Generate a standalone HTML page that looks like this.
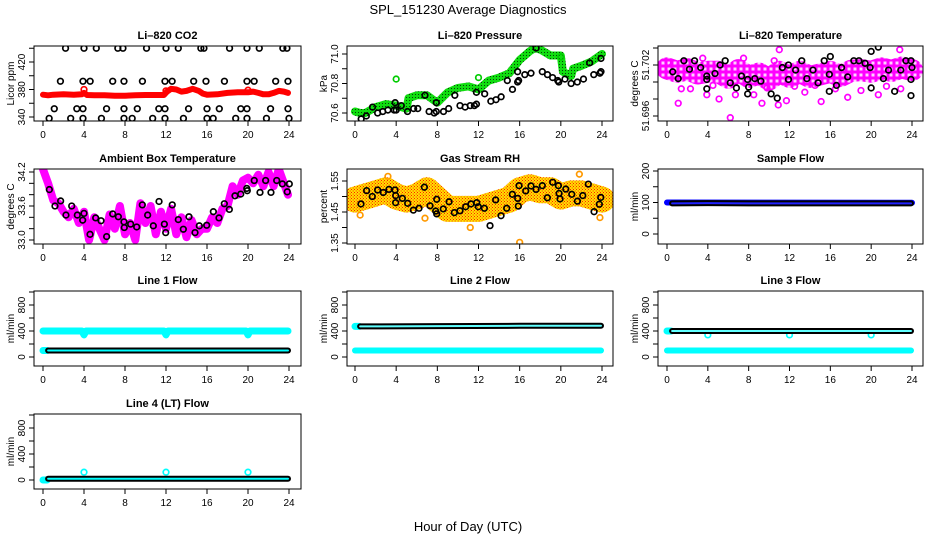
<!DOCTYPE html>
<html><head><meta charset="utf-8"><style>
html,body{margin:0;padding:0;background:#fff;}
svg{display:block;font-family:"Liberation Sans",Arial,sans-serif;}
</style></head><body>
<svg id="chart" width="936" height="540" viewBox="0 0 936 540" xmlns="http://www.w3.org/2000/svg">
<defs>
<pattern id="pRH" patternUnits="userSpaceOnUse" width="3" height="3"><rect width="3" height="3" fill="#ffe000"/><rect x="0" y="0" width="1" height="1" fill="#ff2000"/><rect x="1.5" y="1.5" width="1.5" height="1" fill="#ff6000"/></pattern>
<pattern id="pGreen" patternUnits="userSpaceOnUse" width="3" height="3"><rect width="3" height="3" fill="#10dd10"/><rect x="1" y="1" width="1" height="1" fill="#064006"/></pattern>
<pattern id="pMag" patternUnits="userSpaceOnUse" width="6" height="6"><rect width="6" height="6" fill="#ff00ff"/><rect x="1.5" y="1.5" width="3" height="3" fill="#ffd0ff"/></pattern>
</defs>
<text x="468" y="14" text-anchor="middle" font-size="13">SPL_151230  Average Diagnostics</text>
<text x="468" y="531" text-anchor="middle" font-size="13">Hour of Day (UTC)</text>
</svg>
<script>
// ---------- data ----------
const xTicks = [0,4,8,12,16,20,24];
const co2Band = [[0,372.5],[0.5,371.5],[1,372.5],[2,373],[3,372.5],[3.8,373],[4,375],[4.3,372],[5,371.5],[6,371.5],[7,371],[8,371],[9,371.5],[10,372],[11,372],[11.8,372],[12.1,377],[12.5,381],[13,380],[13.5,377],[14,378],[14.6,381],[15.2,378],[15.6,374],[16,372.5],[17,373],[18,375],[19,376],[20,376],[20.5,377],[21,375],[21.5,373],[22,373],[22.5,375],[23,378],[23.5,377],[23.9,375]];
const co2Red = [[4,380],[12,378],[20,379]];
const co2Black = [[2.2,440],[4.0,440],[5.2,440],[7.3,440],[7.8,440],[10.1,440],[12.0,440],[13.2,440],[15.4,440],[15.7,440],[18.2,440],[19.9,440],[21.1,440],[23.4,440],[23.8,440],
[1.7,392],[3.9,392],[4.6,392],[6.8,392],[7.9,392],[9.7,392],[11.9,392],[12.6,392],[14.7,392],[15.9,392],[17.7,392],[19.9,392],[20.6,392],[22.7,392],[23.9,392],
[1.1,352],[3.3,352],[3.9,352],[6.2,352],[7.9,352],[9.2,352],[11.3,352],[11.9,352],[14.2,352],[16.0,352],[17.2,352],[19.3,352],[19.9,352],[22.2,352],[23.9,352],
[0.6,338],[2.7,338],[3.9,338],[5.7,338],[7.9,338],[8.7,338],[10.7,338],[11.9,338],[13.7,338],[16.0,338],[16.6,338],[18.8,338],[19.9,338],[21.8,338],[24.0,338]];
const presBand = [[0,70.61],[0.5,70.6],[1,70.6],[2,70.64],[3,70.66],[4,70.65],[5,70.63],[5.2,70.7],[6,70.72],[7,70.72],[8,70.67],[9,70.74],[10,70.77],[11,70.78],[12,70.76],[13,70.82],[14,70.84],[15,70.87],[16,70.96],[17,71.02],[17.5,71.04],[18,71.03],[19,70.99],[20,70.99],[20.2,70.88],[21,70.85],[21.2,70.9],[22,70.92],[23,70.95],[24,71.0]];
const presGreen = [[4,70.83],[12,70.84],[20,70.98]];
const presBlack = [[0.6,70.56],[1.1,70.58],[1.7,70.64],[2.2,70.6],[2.7,70.61],[3.2,70.62],[3.8,70.62],[4.0,70.62],[3.9,70.67],[4.5,70.65],[5.1,70.61],[5.7,70.63],[6.1,70.63],[6.8,70.72],[7.2,70.61],[7.7,70.6],[7.9,70.61],[8.6,70.61],[9.1,70.63],[7.9,70.67],[9.7,70.72],[10.2,70.65],[10.7,70.64],[11.2,70.65],[11.6,70.65],[11.8,70.66],[11.8,70.74],[12.6,70.73],[13.2,70.68],[13.7,70.69],[14.2,70.71],[14.8,70.82],[15.3,70.76],[15.8,70.81],[15.9,70.82],[15.8,70.88],[16.5,70.86],[17.1,70.87],[17.6,71.04],[18.2,70.88],[18.7,70.86],[19.2,70.84],[19.7,70.82],[19.8,70.81],[20.4,70.83],[21.0,70.8],[21.6,70.81],[22.2,70.83],[22.8,70.94],[23.2,70.86],[23.8,70.87],[23.9,70.88],[23.9,70.97]];
const tempBand = [[0,51.7016],[1,51.7012],[2,51.7015],[3,51.701],[4,51.7012],[5,51.7012],[6,51.7005],[7,51.7014],[8,51.7006],[9,51.701],[10,51.7003],[11,51.7012],[12,51.7006],[13,51.7012],[14,51.7006],[15,51.7009],[16,51.7012],[17,51.7007],[18,51.7013],[19,51.7014],[20,51.7012],[21,51.7016],[22,51.7013],[23,51.7017],[24,51.7014]];
const tempMag = [[0.1,51.7023],[1.1,51.6975],[3.5,51.7028],[3.9,51.6985],[5.1,51.698],[6.2,51.6958],[9.3,51.6975],[10.9,51.6973],[11,51.7038],[11.7,51.6978],[15.1,51.6977],[17.7,51.6982],[20.7,51.6985],[22.8,51.7038],[22.9,51.6992],[8.5,51.6985],[13.5,51.6988],[19,51.699],[2.3,51.6992],[14.5,51.6996],[6.7,51.6985],[1.4,51.6992],[4.5,51.6996],[9.8,51.6993],[12.5,51.6995],[16.5,51.6992],[21.5,51.6995],[7.5,51.7028],[10.5,51.7025]];
const tempBlack = [[0.56,51.7012],[1.1,51.7004],[1.65,51.7025],[2.2,51.7015],[2.7,51.7025],[3.3,51.7017],[3.9,51.7007],[3.9,51.7003],[3.9,51.6992],[4.7,51.701],[5.2,51.702],[5.7,51.7025],[6.2,51.6999],[6.8,51.6993],[7.3,51.7007],[7.9,51.7003],[7.9,51.6986],[8.0,51.6994],[8.6,51.7004],[9.2,51.7001],[10.2,51.6986],[10.8,51.6981],[11.3,51.7017],[11.9,51.702],[11.9,51.7003],[12.6,51.7014],[13.2,51.7025],[13.7,51.7004],[14.3,51.7014],[14.8,51.6999],[15.4,51.7025],[15.9,51.7009],[15.9,51.6989],[16.0,51.703],[16.6,51.6996],[17.1,51.7017],[17.7,51.7006],[18.3,51.7025],[18.8,51.7025],[19.4,51.7022],[19.9,51.7017],[20.0,51.7036],[20.0,51.6993],[20.7,51.7041],[21.2,51.7004],[21.7,51.7014],[22.3,51.6989],[22.9,51.7014],[23.4,51.7025],[23.9,51.7025],[24.0,51.7017],[23.9,51.7003],[23.9,51.6984]];
const ambBand = [[0,34.25],[0.5,34.0],[1,33.7],[1.5,33.65],[2,33.5],[2.5,33.4],[3,33.55],[3.5,33.3],[4,33.5],[4.5,33.0],[5,33.4],[5.5,33.2],[6,33.0],[6.5,33.45],[7,33.2],[7.5,33.6],[8,33.1],[8.5,33.3],[9,33.0],[9.5,33.65],[10,33.3],[10.5,33.6],[11,33.1],[11.5,33.5],[12,33.2],[12.5,33.55],[13,33.1],[13.5,33.4],[14,33.05],[14.5,33.35],[15,33.1],[15.5,33.2],[16,33.2],[16.5,33.4],[17,33.3],[17.5,33.55],[18,33.6],[18.5,33.95],[19,33.8],[19.5,34.05],[20,34.1],[20.5,34.0],[21,34.15],[21.5,33.95],[22,34.2],[22.5,33.95],[23,34.25],[23.5,34.0],[23.9,33.8]];
const ambBlack = [[0.62,33.89],[1.17,33.6],[1.72,33.69],[2.24,33.44],[2.8,33.6],[3.35,33.44],[3.87,33.35],[4.0,33.47],[4.59,33.1],[5.14,33.39],[5.66,33.34],[6.21,33.06],[6.8,33.46],[7.35,33.41],[7.9,33.32],[7.93,33.22],[8.55,33.28],[9.14,33.23],[9.69,33.62],[10.21,33.44],[10.76,33.25],[11.32,33.68],[11.84,33.28],[11.97,33.13],[12.61,33.62],[13.2,33.36],[13.69,33.19],[14.24,33.41],[14.83,33.13],[15.25,33.25],[15.97,33.26],[16.62,33.5],[17.17,33.39],[17.69,33.64],[18.18,33.54],[18.73,33.78],[19.29,33.81],[19.88,33.91],[19.93,33.87],[20.61,34.05],[21.17,33.84],[21.72,34.05],[22.24,33.84],[22.8,34.05],[23.35,33.99],[23.83,33.85],[24.03,33.99]];
const rhBand = [[0,1.49],[1,1.5],[2,1.51],[3,1.52],[4,1.5],[5,1.49],[6,1.5],[7,1.52],[8,1.49],[9,1.46],[10,1.46],[11,1.46],[12,1.46],[13,1.47],[14,1.48],[15,1.49],[16,1.52],[17,1.53],[18,1.52],[19,1.52],[20,1.5],[21,1.51],[22,1.51],[23,1.5],[24,1.49]];
const rhOrange = [[16,1.352],[11.2,1.4],[21.8,1.572],[3.2,1.565],[0.5,1.44],[23.8,1.432],[6.8,1.43]];
const rhBlack = [[0.58,1.476],[1.13,1.519],[1.68,1.5],[2.2,1.521],[2.75,1.513],[3.3,1.523],[3.89,1.521],[3.95,1.503],[3.95,1.48],[4.6,1.494],[5.12,1.478],[5.67,1.456],[6.22,1.462],[6.74,1.53],[7.29,1.47],[7.84,1.453],[7.94,1.491],[7.94,1.444],[8.58,1.46],[9.14,1.483],[9.65,1.448],[10.2,1.454],[10.76,1.467],[11.27,1.476],[11.83,1.48],[11.98,1.467],[12.57,1.462],[13.12,1.406],[13.67,1.489],[14.19,1.438],[14.74,1.462],[15.29,1.507],[15.81,1.494],[15.87,1.469],[15.94,1.535],[16.59,1.518],[17.1,1.534],[17.59,1.523],[18.2,1.535],[18.69,1.496],[19.21,1.546],[19.76,1.535],[19.83,1.51],[19.92,1.492],[20.48,1.524],[21.06,1.507],[21.61,1.485],[22.13,1.503],[22.67,1.54],[23.23,1.451],[23.74,1.475],[23.88,1.497]];
const sampleBlue = [[0,100],[24,99]];
const sampleBlack = [[0.5,97],[4,98],[8,97],[12,97],[16,97],[20,97],[23.9,97]];
const l1Cyan = [[0,400],[3.8,400],[4,340],[4.2,400],[11.8,400],[12,340],[12.2,400],[19.8,400],[20,340],[20.2,400],[23.9,400]];
const l1CyanLow = [[0,100],[0.4,100]];
const l1Black = [[0.5,100],[8,100],[16,100],[23.9,100]];
const l2Cyan = [[0,100],[23.9,100]];
const l2CyanHigh = [[0,470],[0.4,470]];
const l2Black = [[0.5,470],[8,475],[16,480],[23.9,480]];
const l3Cyan = [[0,100],[23.9,100]];
const l3CyanHigh = [[0,400],[0.4,400]];
const l3Dips = [[4,340],[12,340],[20,340]];
const l3Black = [[0.5,400],[8,400],[16,400],[23.9,400]];
const l4CyanLow = [[0,0],[0.4,0]];
const l4CyanPts = [[4,120],[12,120],[20,120]];
const l4Black = [[0.5,20],[8,20],[16,20],[23.9,20]];

// ---------- helpers ----------
const svg = document.getElementById('chart');
const NS = 'http://www.w3.org/2000/svg';
function mk(tag, attrs, parent){ const e=document.createElementNS(NS,tag); for(const k in attrs) e.setAttribute(k,attrs[k]); (parent||svg).appendChild(e); return e; }
const cols = [{l:34,r:301,x0:43,x24:289},{l:347,r:613,x0:355,x24:602},{l:658,r:923,x0:667,x24:912}];
const rows = [46,169,291,414];
let clipId=0;
function panel(name, title, col, row, v1, o1, v2, o2, yTicks, yLabels, yTitle){
  const c=cols[col], top=rows[row], bot=top+75;
  const g=mk('g',{});
  
  
  const sx=h=>c.x0+h*(c.x24-c.x0)/24;
  const sy=v=>(top+o1)+(v-v1)*((o2-o1)/(v2-v1));
  const id='clip'+(clipId++);
  const cp=mk('clipPath',{id:id},g); mk('rect',{x:c.l,y:top,width:c.r-c.l,height:bot-top},cp);
  const t=mk('text',{x:(c.l+c.r)/2,y:top-7,'text-anchor':'middle','font-size':'11','font-weight':'bold'},g); t.textContent=title;
  
  
  xTicks.forEach(h=>{ mk('line',{x1:sx(h),x2:sx(h),y1:bot,y2:bot+5,stroke:'#000','stroke-width':1},g);
    const tl=mk('text',{x:sx(h),y:bot+17,'text-anchor':'middle','font-size':'10'},g); tl.textContent=h;
    
     });
  yTicks.forEach(v=>{ mk('line',{x1:c.l-5,x2:c.l,y1:sy(v),y2:sy(v),stroke:'#000','stroke-width':1},g); });
  yLabels.forEach(lb=>{ const y=sy(parseFloat(lb)); const tl=mk('text',{x:0,y:0,'text-anchor':'middle','font-size':'10',transform:`translate(${c.l-9},${y}) rotate(-90)`},g); tl.textContent=lb;
    
     });
  const yt=mk('text',{x:0,y:0,'text-anchor':'middle','font-size':'10',transform:`translate(${c.l-20},${(top+bot)/2}) rotate(-90)`},g); yt.textContent=yTitle;
  
  
  const plot=mk('g',{'clip-path':`url(#${id})`},g);
  mk('rect',{x:c.l,y:top,width:c.r-c.l,height:bot-top,fill:'none',stroke:'#000','stroke-width':1},g);
  return {sx,sy,plot};
}
function band(p, pts, color, w, nm){ const d=pts.map(q=>p.sx(q[0]).toFixed(1)+','+p.sy(q[1]).toFixed(1)).join(' ');
  const e=mk('polyline',{points:d,fill:'none',stroke:color,'stroke-width':w,'stroke-linejoin':'round','stroke-linecap':'round'},p.plot);
  
   return e; }
function pts(p, arr, color, nm){ arr.forEach(q=>{ const e=mk('circle',{cx:p.sx(q[0]),cy:p.sy(q[1]),r:2.8,fill:'none',stroke:color,'stroke-width':1.7},p.plot);
  
   }); }
function chain(p, arr, outer, inner, nm){ band(p,arr,outer,6,nm); band(p,arr,inner,2,nm+'-inner'); }

// ---------- panels ----------
let p;
p=panel('co2-panel','Li\u2013820 CO2',0,0,340,71,420,16,[340,360,380,400,420,440],['340','380','420'],'Licor ppm');
band(p,co2Band,'#ff0000',6,'co2-red-series'); pts(p,co2Red,'#ff0000','co2-red-point'); pts(p,co2Black,'#000','co2-black-point');

p=panel('pressure-panel','Li\u2013820 Pressure',1,0,70.6,67,71.0,8,[70.6,70.7,70.8,70.9,71.0],['70.6','70.8','71.0'],'kPa');
band(p,presBand,'url(#pGreen)',8,'pressure-green-series'); pts(p,presGreen,'#00cc00','pressure-green-point'); pts(p,presBlack,'#000','pressure-black-point');

p=panel('temperature-panel','Li\u2013820 Temperature',2,0,51.696,70,51.704,2,[51.696,51.698,51.7,51.702,51.704],['51.696','51.702'],'degrees C');
band(p,tempBand,'url(#pMag)',22,'temperature-magenta-series'); pts(p,tempMag,'#ff00ff','temperature-magenta-point'); pts(p,tempBlack,'#000','temperature-black-point');

p=panel('ambient-panel','Ambient Box Temperature',0,1,33.0,71,34.2,3,[33.0,33.2,33.4,33.6,33.8,34.0,34.2],['33.0','33.6','34.2'],'degrees C');
band(p,ambBand,'#ff00ff',8,'ambient-magenta-series'); pts(p,ambBlack,'#000','ambient-black-point');

p=panel('rh-panel','Gas Stream RH',1,1,1.35,74,1.55,12,[1.35,1.40,1.45,1.50,1.55],['1.35','1.45','1.55'],'percent');
band(p,rhBand,'url(#pRH)',26,'rh-orange-series'); pts(p,rhOrange,'#ff9900','rh-orange-point'); pts(p,rhBlack,'#000','rh-black-point');

p=panel('sample-flow-panel','Sample Flow',2,1,0,65,200,2,[0,50,100,150,200],['0','100','200'],'ml/min');
band(p,sampleBlue,'#0000ff',6,'sample-blue-series'); chain(p,sampleBlack,'#000','#2020ff','sample-black-series');

const fT=[0,200,400,600,800,1000], fL=['0','400','800'];
p=panel('line1-flow-panel','Line 1 Flow',0,2,0,66,800,14,fT,fL,'ml/min');
band(p,l1Cyan,'#00ffff',7,'line1-cyan-series'); band(p,l1CyanLow,'#00ffff',7,'line1-cyan-low'); chain(p,l1Black,'#000','#00ffff','line1-black-series');

p=panel('line2-flow-panel','Line 2 Flow',1,2,0,66,800,14,fT,fL,'ml/min');
band(p,l2Cyan,'#00ffff',6,'line2-cyan-series'); band(p,l2CyanHigh,'#00ffff',7,'line2-cyan-high'); chain(p,l2Black,'#000','#60ffff','line2-black-series');

p=panel('line3-flow-panel','Line 3 Flow',2,2,0,66,800,14,fT,fL,'ml/min');
band(p,l3Cyan,'#00ffff',6,'line3-cyan-series'); band(p,l3CyanHigh,'#00ffff',7,'line3-cyan-high'); pts(p,l3Dips,'#00ffff','line3-cyan-point'); chain(p,l3Black,'#000','#60ffff','line3-black-series');

p=panel('line4-flow-panel','Line 4 (LT) Flow',0,3,0,66,800,14,fT,fL,'ml/min');
band(p,l4CyanLow,'#00ffff',7,'line4-cyan-low'); pts(p,l4CyanPts,'#00ffff','line4-cyan-point'); chain(p,l4Black,'#000','#00ffff','line4-black-series');
</script>
</body></html>
